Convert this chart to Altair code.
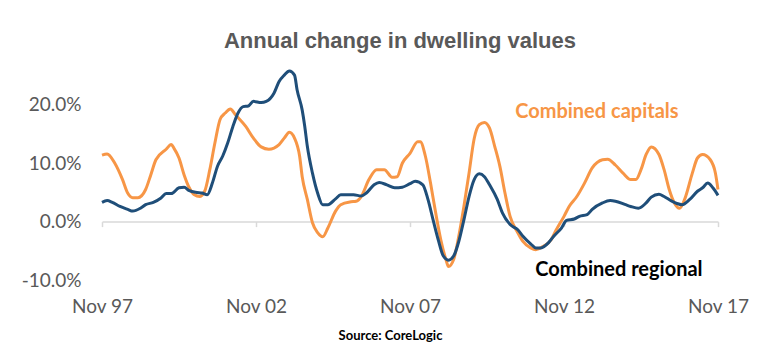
import altair as alt
import pandas as pd

# months since Nov 1997 and annual change (%)
cap_month = [0, 2, 5, 8, 10, 12, 14, 17, 19, 21, 25, 27, 28, 30, 32, 34, 36, 38, 40, 42,
             44, 46, 48, 50, 52, 56, 59, 62, 65, 69, 71, 73, 75, 77, 78, 80, 82, 84, 86, 88,
             91, 93, 97, 99, 101, 104, 107, 110, 113, 115, 117, 120, 123, 124, 126, 128, 130, 132, 134, 135,
             137, 139, 141, 143, 145, 147, 149, 151, 153, 155, 157, 159, 162, 164, 167, 169, 172, 175, 177, 180,
             182, 185, 188, 191, 195, 197, 200, 203, 206, 208, 210, 212, 214, 217, 219, 221, 223, 225, 227, 230,
             232, 234, 237, 239, 240]
cap_value = [11.4, 11.6, 10.0, 7.2, 4.9, 4.1, 4.1, 5.5, 8.0, 10.6, 12.4, 13.2, 12.6, 10.9, 8.0, 5.8, 4.6, 4.3, 5.2, 8.9,
             13.5, 17.5, 18.6, 19.3, 18.3, 16.3, 14.3, 12.8, 12.4, 13.2, 14.3, 15.3, 14.3, 11.2, 7.7, 3.8, -0.2, -1.9, -2.6, -1.1,
             1.8, 2.9, 3.4, 3.5, 4.3, 7.2, 8.9, 8.9, 7.6, 7.7, 10.0, 11.7, 13.7, 13.7, 11.2, 6.6, 1.5, -3.1, -6.5, -7.7,
             -6.5, -2.5, 2.6, 8.3, 14.2, 16.6, 17.0, 16.0, 12.9, 9.5, 4.9, 0.9, -1.9, -3.4, -4.5, -4.8, -4.2, -3.1, -1.4, 0.9,
             2.6, 4.3, 6.6, 9.2, 10.6, 10.7, 9.7, 8.3, 7.2, 7.2, 8.9, 11.5, 12.8, 11.5, 8.9, 5.5, 3.2, 2.3, 3.8, 8.3,
             10.9, 11.5, 10.6, 8.3, 5.5]

reg_month = [0, 2, 4, 7, 10, 12, 15, 17, 20, 23, 25, 27, 30, 32, 34, 37, 39, 41, 43, 45,
             47, 49, 51, 53, 55, 57, 59, 62, 64, 67, 69, 71, 73, 75, 76, 78, 79, 80, 82, 84,
             86, 88, 91, 93, 96, 98, 101, 103, 106, 108, 111, 114, 117, 120, 122, 125, 127, 129, 131, 133,
             135, 137, 139, 141, 143, 145, 147, 149, 151, 154, 156, 159, 162, 164, 167, 169, 171, 174, 176, 179,
             181, 184, 186, 189, 191, 195, 198, 200, 204, 206, 209, 212, 214, 217, 219, 222, 224, 226, 229, 232,
             234, 236, 238, 240]
reg_value = [3.3, 3.6, 3.3, 2.6, 2.1, 1.8, 2.3, 2.9, 3.3, 4.05, 4.8, 4.8, 5.8, 5.9, 5.3, 5.0, 4.9, 4.6, 6.6, 9.5,
             11.2, 13.5, 16.3, 18.6, 19.7, 19.8, 20.6, 20.4, 20.6, 22.0, 24.0, 25.1, 25.8, 25.1, 22.6, 19.1, 16.3, 12.9, 8.3, 4.9,
             2.9, 2.9, 3.9, 4.6, 4.6, 4.6, 4.4, 4.9, 6.3, 6.7, 6.3, 5.8, 5.9, 6.5, 6.9, 6.3, 3.8, 0.3, -3.1, -5.9,
             -6.6, -5.9, -3.4, 0.3, 4.3, 7.2, 8.2, 7.7, 6.3, 3.8, 1.5, -0.5, -1.4, -2.5, -3.8, -4.5, -4.5, -3.6, -2.5, -1.1,
             0.2, 0.45, 0.9, 1.2, 2.1, 3.2, 3.6, 3.5, 2.9, 2.6, 2.3, 3.2, 4.2, 4.7, 4.3, 3.5, 3.1, 2.9, 3.8, 5.2,
             5.8, 6.6, 5.8, 4.5]

series_names = ["Combined capitals", "Combined regional"]
series_colors = ["#F79646", "#1F4E79"]
tick_months = [0, 60, 120, 180, 240]
tick_labels = ["Nov 97", "Nov 02", "Nov 07", "Nov 12", "Nov 17"]
y_ticks = [-10, 0, 10, 20]

# label anchors (month, value)
label_month = [192.8, 201.4]
label_value = [18.8, -8.25]
label_colors = ["#F79646", "#000000"]

df = pd.concat([
    pd.DataFrame({"month": cap_month, "value": cap_value, "series": series_names[0]}),
    pd.DataFrame({"month": reg_month, "value": reg_value, "series": series_names[1]}),
])
labels_df = pd.DataFrame({"month": label_month, "value": label_value,
                          "label": series_names, "c": label_colors})

label_expr = " : ".join(
    f"datum.value == {m} ? '{t}'" for m, t in zip(tick_months, tick_labels)
) + " : ''"

W, H = 616, 216
ymin, ymax = -10, 27
zero_offset = -H * (0 - ymin) / (ymax - ymin)

x_enc = alt.X(
    "month:Q",
    scale=alt.Scale(domain=[0, 240], nice=False, zero=False),
    axis=alt.Axis(
        values=tick_months, labelExpr=label_expr, grid=False, labelFlush=False,
        labelOverlap=False,
        domain=True, domainColor="#D9D9D9", domainWidth=1.5,
        ticks=True, tickColor="#D9D9D9", tickSize=5, tickWidth=1.5,
        offset=zero_offset, labelPadding=-zero_offset + 17 - 5,
        labelFont="Lato", labelFontSize=19, labelColor="#595959",
        title="Source: CoreLogic", titleFont="Lato", titleFontSize=13,
        titleFontWeight="bold", titleColor="#000000",
        titleX=288, titleY=-zero_offset + 59, titleAlign="center",
        titleBaseline="alphabetic",
    ),
)
y_scale = alt.Scale(domain=[ymin, ymax], nice=False, zero=False)
y_enc = alt.Y(
    "value:Q", scale=y_scale,
    axis=alt.Axis(
        values=y_ticks,
        labelExpr="(datum.value < 0 ? '-' : '') + format(abs(datum.value), '.1f') + '%'",
        grid=False, domain=False, ticks=False, labelPadding=21,
        labelFont="Lato", labelFontSize=19, labelColor="#595959", title=None,
    ),
)

lines = alt.Chart(df).mark_line(strokeWidth=3, interpolate="monotone").encode(
    x=x_enc,
    y=y_enc,
    color=alt.Color("series:N", scale=alt.Scale(domain=series_names, range=series_colors), legend=None),
    order=alt.Order("month:Q"),
)

texts = alt.Chart(labels_df).mark_text(
    font="Lato", fontSize=20, fontWeight="bold", baseline="middle", align="center"
).encode(
    x=alt.X("month:Q"),
    y=alt.Y("value:Q"),
    text="label:N",
    color=alt.Color("c:N", scale=None),
)

chart = alt.layer(lines, texts).properties(
    width=W, height=H,
    title=alt.TitleParams(
        "Annual change in dwelling values",
        font="Liberation Sans", fontSize=22, fontWeight="bold", color="#595959",
        anchor="middle", frame="group", dx=-10, dy=23, offset=17, baseline="alphabetic",
    ),
    padding={"left": 102, "top": 64, "right": 55, "bottom": 72},
    autosize=alt.AutoSizeParams(type="none"),
    background="white",
).configure_view(stroke=None)

chart.save("out.html", embed_options={"renderer": "svg", "actions": False})
